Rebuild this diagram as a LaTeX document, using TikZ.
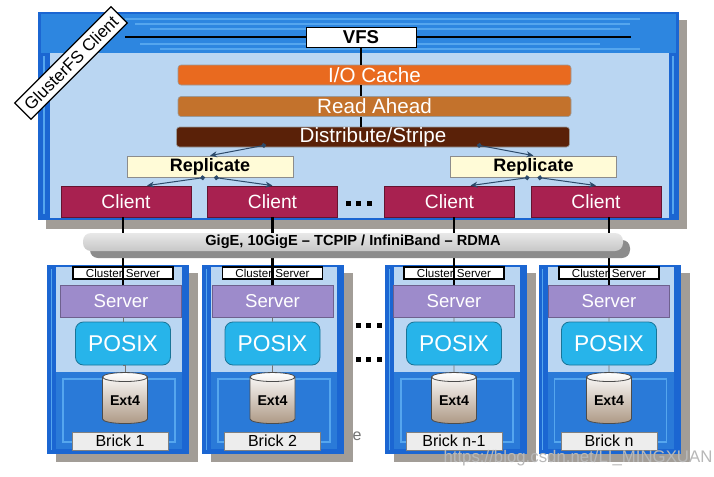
\documentclass[tikz,border=0pt]{standalone}
\usepackage{fontspec}
\setmainfont{Liberation Sans}
\usetikzlibrary{arrows.meta, shapes.geometric, shadows}

\definecolor{frameblue}{HTML}{1B66D2}
\definecolor{bandblue}{HTML}{2D86E0}
\definecolor{streakblue}{HTML}{55A6EE}
\definecolor{paneblue}{HTML}{BAD6F2}
\definecolor{deepblue}{HTML}{2A7AD8}
\definecolor{iocache}{HTML}{E96A1F}
\definecolor{readahead}{HTML}{C3722C}
\definecolor{diststripe}{HTML}{5A2108}
\definecolor{replfill}{HTML}{FFFBD7}
\definecolor{clientred}{HTML}{A82150}
\definecolor{serverpurple}{HTML}{9D8BCB}
\definecolor{posixcyan}{HTML}{27B4EA}
\definecolor{shadowgray}{HTML}{A29D97}
\definecolor{linkblue}{HTML}{2C4A6A}

\newcommand{\fsz}[1]{\fontsize{#1}{#1}\selectfont}

\tikzset{
  layer/.style={rectangle, rounded corners=1.5pt, minimum width=196.5pt, minimum height=10pt, inner sep=0pt, text=white, draw=black!40, line width=0.3pt, font=\fsz{10.3}},
  replicate/.style={rectangle, fill=replfill, draw=black!45, minimum width=83pt, minimum height=10.5pt, inner sep=0pt, font=\bfseries\fsz{9}},
  client/.style={rectangle, fill=clientred, draw=clientred!60!black, minimum width=65pt, minimum height=15.5pt, inner sep=0pt, text=white, font=\fsz{9.6}},
  link/.style={draw=linkblue, line width=0.5pt, {Circle[length=2.4pt]}-{Stealth[length=3.5pt, width=3pt]}},
  dotsq/.style={rectangle, fill=black, minimum size=2.5pt, inner sep=0pt},
  brickbox/.style={rectangle, fill=frameblue, minimum width=71pt, minimum height=94.5pt, inner sep=0pt,
    drop shadow={shadow xshift=4.5pt, shadow yshift=-4pt, fill=shadowgray, opacity=1},
    path picture={
      \fill[paneblue] ([xshift=4.5pt, yshift=-0.8pt]path picture bounding box.north west) rectangle ([xshift=-3.5pt, yshift=-53.5pt]path picture bounding box.north east);
      \fill[deepblue] ([xshift=4.5pt, yshift=-53.5pt]path picture bounding box.north west) rectangle ([xshift=-3.5pt, yshift=2.5pt]path picture bounding box.south east);
      \draw[streakblue, line width=0.6pt] ([xshift=8pt, yshift=-57pt]path picture bounding box.north west) rectangle ([xshift=-7pt, yshift=6pt]path picture bounding box.south east);
      \draw[streakblue, line width=0.5pt] ([xshift=2pt, yshift=-2pt]path picture bounding box.north west) -- ([xshift=2pt, yshift=2pt]path picture bounding box.south west);
    }},
  clusterbox/.style={rectangle, fill=white, draw=black, line width=0.6pt, minimum width=50pt, minimum height=6pt, inner sep=0pt, font=\fsz{5.8}},
  serverbox/.style={rectangle, fill=serverpurple, draw=serverpurple!70!black, minimum width=60.5pt, minimum height=16pt, inner sep=0pt, text=white, font=\fsz{9.3}},
  posix/.style={rectangle, rounded corners=4pt, fill=posixcyan, draw=posixcyan!65!black, minimum width=47.5pt, minimum height=21.5pt, inner sep=0pt, text=white, font=\fsz{11.4}},
  disk/.style={cylinder, shape border rotate=90, aspect=0.3, draw=black!70, top color=white, bottom color=brown!40!gray!80, minimum width=22.5pt, minimum height=25.5pt, inner sep=0pt, font=\bfseries\fsz{7.1}},
  bricklabel/.style={rectangle, fill=black!7, draw=black!50, minimum width=48pt, minimum height=9pt, inner sep=0pt, font=\fsz{8}},
  wire/.style={draw=black!55, line width=0.4pt},
  netline/.style={draw=black, line width=1.3pt}
}

\begin{document}
\begin{tikzpicture}[x=0.5pt, y=-0.5pt]
  \fill[white] (0,0) rectangle (714,477);
  \useasboundingbox (0,0) rectangle (714,477);

  % client window
  \fill[shadowgray] (46,20) rectangle (687,229);
  \fill[frameblue] (38,12) rectangle (679,220);
  \fill[bandblue] (41,14) rectangle (676,53);
  \draw[streakblue, line width=0.8pt] (125,19) -- (640,19) (135,24) -- (630,24) (150,29) -- (620,29) (140,44) -- (600,44) (160,49) -- (640,49);
  \fill[paneblue] (50,53) rectangle (669,218);
  \draw[streakblue, line width=0.6pt] (44,56) -- (44,214) (673,56) -- (673,214);

  \coordinate (bandL) at (125,37);
  \coordinate (bandR) at (631,37);
  \node[rectangle, fill=white, draw=black, line width=0.5pt, minimum width=55pt, minimum height=10pt, inner sep=0pt, font=\bfseries\fsz{9.3}] (vfs) at (361,37) {VFS};
  \draw[line width=1.3pt] (bandL) -- (vfs.west) (vfs.east) -- (bandR);

  \node[rectangle, rotate=45, fill=white, draw=black, line width=0.6pt, minimum width=68pt, minimum height=11.5pt, inner sep=0pt, font=\fsz{8.5}] (gfs) at (71,63) {GlusterFS Client};

  \node[layer, fill=iocache] (io) at (374.5,75) {I/O Cache};
  \node[layer, fill=readahead] (ra) at (374.5,106.5) {Read Ahead};
  \node[layer, fill=diststripe] (dist) at (373,137) {Distribute/Stripe};
  \draw[line width=0.8pt] (vfs.south) -- (vfs.south |- io.north);
  \draw[line width=0.8pt] (vfs.south |- io.south) -- (vfs.south |- ra.north);
  \draw[line width=0.8pt] (vfs.south |- ra.south) -- (vfs.south |- dist.north);

  \node[replicate] (repL) at (210,166.5) {Replicate};
  \node[replicate] (repR) at (533.5,166.5) {Replicate};

  \node[client] (cl1) at (126,201.5) {Client};
  \node[client] (cl2) at (272.5,201.5) {Client};
  \node[client] (cl3) at (449.5,201.5) {Client};
  \node[client] (cl4) at (596,201.5) {Client};

  \node[dotsq] (cd1) at (348,203) {};
  \node[dotsq] (cd2) at (358.5,203) {};
  \node[dotsq] (cd3) at (369,203) {};

  \coordinate (dL) at (266,145);
  \coordinate (dR) at (477,145);
  \draw[link] (dL) -- (repL.north);
  \draw[link] (dR) -- (repR.north);
  \draw[link] ([xshift=-2.5pt]repL.south) -- ([xshift=10.5pt]cl1.north);
  \draw[link] ([xshift=2pt]repL.south) -- (cl2.north);
  \draw[link] ([xshift=-2pt]repR.south) -- ([xshift=10.5pt]cl3.north);
  \draw[link] ([xshift=2pt]repR.south) -- (cl4.north);

  % bricks
  \node[brickbox] (b1) at (118,359.5) {};
  \node[brickbox] (b2) at (273,359.5) {};
  \node[brickbox] (b3) at (456,359.5) {};
  \node[brickbox] (b4) at (609.5,359.5) {};

  \node[clusterbox] (cs1) at (123,273) {Cluster Server};
  \node[clusterbox] (cs2) at (272.5,273) {Cluster Server};
  \node[clusterbox] (cs3) at (454,273) {Cluster Server};
  \node[clusterbox] (cs4) at (609,273) {Cluster Server};

  \node[serverbox] (sv1) at (121,301) {Server};
  \node[serverbox] (sv2) at (272.5,301) {Server};
  \node[serverbox] (sv3) at (454,301) {Server};
  \node[serverbox] (sv4) at (609,301) {Server};

  \node[posix] (px1) at (123,343.5) {POSIX};
  \node[posix] (px2) at (272.5,343.5) {POSIX};
  \node[posix] (px3) at (454,343.5) {POSIX};
  \node[posix] (px4) at (609,343.5) {POSIX};

  \node[disk] (ex1) at (125,400.5) {Ext4};
  \node[disk] (ex2) at (272.5,400.5) {Ext4};
  \node[disk] (ex3) at (454,400.5) {Ext4};
  \node[disk] (ex4) at (609,400.5) {Ext4};

  \node[bricklabel] (bk1) at (120,441) {Brick 1};
  \node[bricklabel] (bk2) at (272.5,441) {Brick 2};
  \node[bricklabel] (bk3) at (454,441) {Brick n-1};
  \node[bricklabel] (bk4) at (609,441) {Brick n};

  \draw[wire] (sv1.south -| px1) -- (px1.north) (px1.south) -- (px1.south -| ex1.north) -- (ex1.north);
  \draw[wire] (sv2.south) -- (px2.north) (px2.south) -- (ex2.north);
  \draw[wire] (sv3.south) -- (px3.north) (px3.south) -- (ex3.north);
  \draw[wire] (sv4.south) -- (px4.north) (px4.south) -- (ex4.north);

  \draw[netline] (cl1.south -| cs1) -- (cs1 |- sv1.north);
  \draw[netline] (cl2.south -| cs2) -- (sv2.north);
  \draw[netline] (cl3.south -| cs3) -- (sv3.north);
  \draw[netline] (cl4.south -| cs4) -- (sv4.north);

  % network
  \node[rectangle, rounded corners=4pt, top color=black!9, bottom color=black!22, minimum width=270pt, minimum height=9pt, inner sep=0pt,
    drop shadow={shadow xshift=3.5pt, shadow yshift=-3.5pt, fill=black!45, opacity=1}, font=\bfseries\fsz{7.3}] (net) at (353,242) {GigE, 10GigE -- TCPIP / InfiniBand -- RDMA};

  \node[dotsq] (sd1) at (358,325) {};
  \node[dotsq] (sd2) at (368.5,325) {};
  \node[dotsq] (sd3) at (379,325) {};
  \node[dotsq] (sd4) at (358,359) {};
  \node[dotsq] (sd5) at (368.5,359) {};
  \node[dotsq] (sd6) at (379,359) {};

  \node[text=black!55, font=\fsz{8}] (frag) at (357,436) {e};
  \node[text=black!28, font=\fsz{8.4}] (mark) at (578,458) {https://blog.csdn.net/LI\_MINGXUAN};
\end{tikzpicture}
\end{document}
